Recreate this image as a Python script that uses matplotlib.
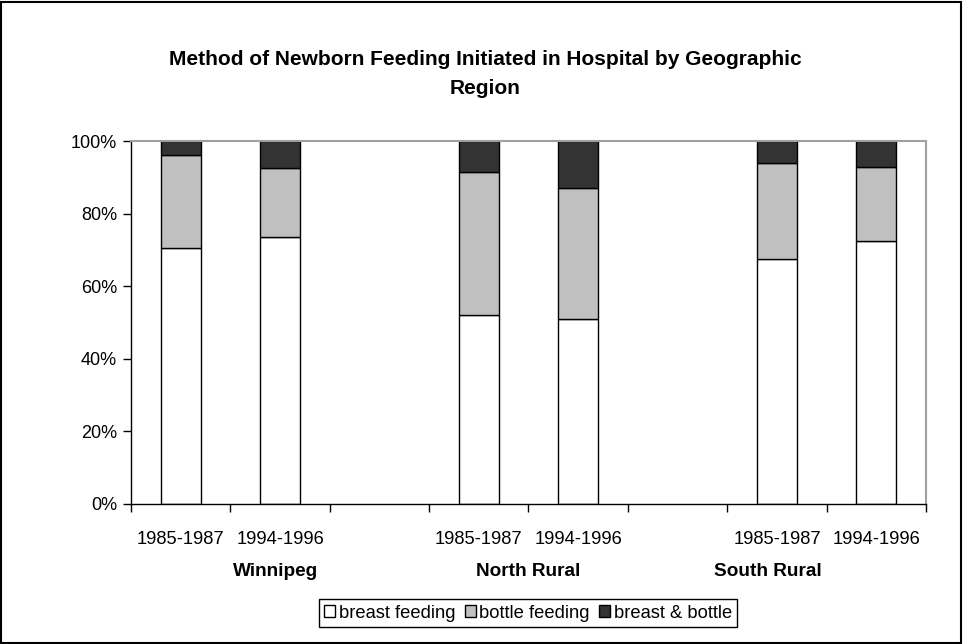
import numpy as np
import matplotlib.pyplot as plt
from matplotlib.ticker import PercentFormatter
from matplotlib.transforms import blended_transform_factory

plt.rcParams['font.family'] = ['Liberation Sans', 'DejaVu Sans']

# categories along the axis (blank slots separate the regions)
periods = ["1985-1987", "1994-1996", "", "1985-1987", "1994-1996", "", "1985-1987", "1994-1996"]
regions = ["Winnipeg", "North Rural", "South Rural"]
region_x = [0.95, 3.5, 5.91]

# shares of newborns by feeding method (fraction of 1)
breast = [0.706, 0.736, np.nan, 0.521, 0.509, np.nan, 0.675, 0.725]
bottle = [0.255, 0.190, np.nan, 0.393, 0.362, np.nan, 0.265, 0.203]
both = [0.039, 0.074, np.nan, 0.086, 0.129, np.nan, 0.060, 0.072]

series = [("breast feeding", breast, "white"),
          ("bottle feeding", bottle, "#C0C0C0"),
          ("breast & bottle", both, "#333333")]

fig = plt.figure(figsize=(9.63, 6.44), dpi=100)
ax = fig.add_axes([0.136, 0.2174, 0.8256, 0.5636])

x = np.arange(len(periods))
has_data = ~np.isnan(np.array(breast, dtype=float))
bottom = np.zeros(len(periods))
for label, vals, color in series:
    v = np.array(vals, dtype=float)
    ax.bar(x[has_data], v[has_data], width=0.4, bottom=bottom[has_data], color=color,
           edgecolor="black", linewidth=1.0, label=label)
    bottom += np.nan_to_num(v)

ax.set_xlim(-0.5, len(periods) - 0.5)
ax.set_ylim(0, 1)
ax.yaxis.set_major_formatter(PercentFormatter(1.0, decimals=0))
ax.set_yticks(np.linspace(0, 1, 6))
ax.tick_params(axis="y", direction="out", length=6, width=1, labelsize=13, pad=4)

ax.set_xticks(x)
ax.set_xticklabels(periods, fontsize=13.2)
ax.set_xticks(np.arange(-0.5, len(periods), 1.0), minor=True)
ax.tick_params(axis="x", which="major", length=0, pad=19.5)
ax.tick_params(axis="x", which="minor", direction="out", length=6, width=1)

for side in ("top", "right"):
    ax.spines[side].set_color("#A0A0A0")
    ax.spines[side].set_linewidth(1.5)
for side in ("left", "bottom"):
    ax.spines[side].set_color("black")
    ax.spines[side].set_linewidth(1.0)

trans = blended_transform_factory(ax.transData, fig.transFigure)
for rx, name in zip(region_x, regions):
    ax.text(rx, 1 - 571 / 644, name, transform=trans, ha="center", va="center",
            fontsize=13.7, fontweight="bold")

fig.text(485 / 963, 1 - 74 / 644,
         "Method of Newborn Feeding Initiated in Hospital by Geographic\nRegion",
         ha="center", va="center", fontsize=15, fontweight="bold", linespacing=1.7)

leg = fig.legend(loc="center", bbox_to_anchor=(528 / 963, 1 - 613 / 644), ncol=3,
                 frameon=True, fancybox=False, edgecolor="black", framealpha=1,
                 fontsize=13.2, handlelength=0.6, handleheight=0.6,
                 handletextpad=0.2, columnspacing=0.5, borderpad=0.3,
                 borderaxespad=0)
leg.get_frame().set_linewidth(1.0)

# outer border around the whole chart
fig.patches.append(plt.Rectangle((0.001, 0.0015), 0.997, 0.996, transform=fig.transFigure,
                                 fill=False, edgecolor="black", linewidth=1.5))

fig.savefig("out.png", dpi=100)
